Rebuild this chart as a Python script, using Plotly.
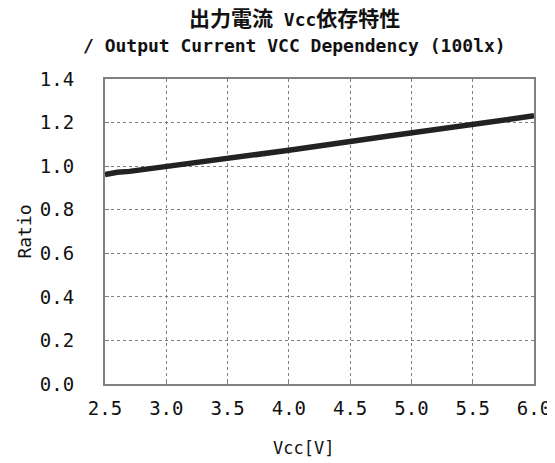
import plotly.graph_objects as go

vcc = [2.5, 2.6, 2.7, 2.8, 2.9, 3.0, 3.1, 3.2, 3.3, 3.4, 3.5, 3.6, 3.7, 3.8, 3.9,
       4.0, 4.1, 4.2, 4.3, 4.4, 4.5, 4.6, 4.7, 4.8, 4.9, 5.0, 5.1, 5.2, 5.3, 5.4,
       5.5, 5.6, 5.7, 5.8, 5.9, 6.0]
ratio = [0.961, 0.972, 0.976, 0.983, 0.993, 1.000, 1.007, 1.013, 1.020, 1.027,
         1.035, 1.043, 1.050, 1.058, 1.066, 1.073, 1.081, 1.090, 1.099, 1.107,
         1.115, 1.121, 1.129, 1.137, 1.145, 1.153, 1.160, 1.168, 1.176, 1.184,
         1.192, 1.200, 1.208, 1.215, 1.223, 1.231]

x_ticks = [2.5, 3.0, 3.5, 4.0, 4.5, 5.0, 5.5, 6.0]
x_tick_labels = ["2.5", "3.0", "3.5", "4.0", "4.5", "5.0", "5.5", "6.0"]
y_ticks = [0.0, 0.2, 0.4, 0.6, 0.8, 1.0, 1.2, 1.4]
y_tick_labels = ["0.0", "0.2", "0.4", "0.6", "0.8", "1.0", "1.2", "1.4"]

title_line1 = ('<b><span style="font-size:21px">出力電流</span> Vcc'
               '<span style="font-size:21px">依存特性</span></b>')
title_line2 = "<b>/ Output Current VCC Dependency (100lx)</b>"
x_title = "Vcc[V]"
y_title = "Ratio"

FONT = "DejaVu Sans Mono, Noto Sans CJK JP, monospace"

fig = go.Figure()
fig.add_trace(go.Scatter(x=vcc, y=ratio, mode="lines",
                         line=dict(color="#222222", width=5.5), showlegend=False))

axis_common = dict(
    showgrid=True, gridcolor="#808080", griddash="dot", gridwidth=1,
    showline=True, linecolor="#808080", linewidth=2, mirror=True,
    ticks="inside", ticklen=4, tickcolor="#808080",
    zeroline=False, automargin=False,
    tickfont=dict(family=FONT, size=19, color="#111111"),
)

fig.update_layout(
    width=547, height=455,
    margin=dict(l=97, r=21, t=71, b=79),
    paper_bgcolor="white", plot_bgcolor="white",
    xaxis=dict(range=[2.5, 6.0], tickvals=x_ticks, ticktext=x_tick_labels,
               ticklabelstandoff=6, **axis_common),
    yaxis=dict(range=[0.0, 1.4], tickvals=y_ticks, ticktext=y_tick_labels,
               ticklabelstandoff=25,
               title=dict(text=y_title, standoff=4,
                          font=dict(family=FONT, size=18, color="#111111")),
               **axis_common),
    annotations=[
        dict(text=title_line1, xref="paper", yref="paper", x=0.442, y=1.197,
             xanchor="center", yanchor="middle", showarrow=False,
             font=dict(family=FONT, size=18, color="#111111")),
        dict(text=title_line2, xref="paper", yref="paper", x=0.442, y=1.111,
             xanchor="center", yanchor="middle", showarrow=False,
             font=dict(family=FONT, size=18, color="#111111")),
        dict(text=x_title, xref="paper", yref="paper", x=0.463, y=-0.21,
             xanchor="center", yanchor="middle", showarrow=False,
             font=dict(family=FONT, size=17, color="#111111")),
    ],
)

fig.write_html("out.html")
